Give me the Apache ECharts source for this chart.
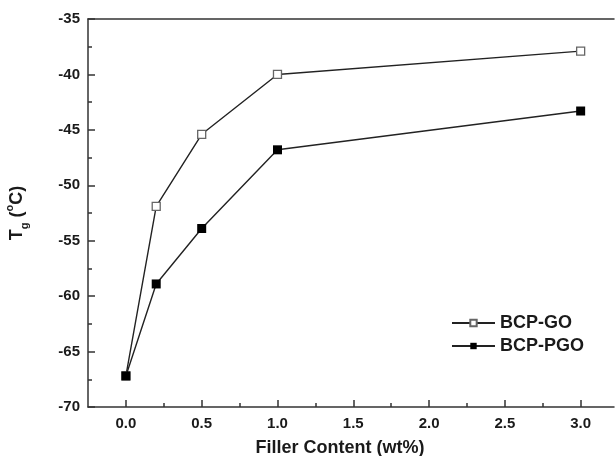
<!DOCTYPE html>
<html>
<head>
    <meta charset="utf-8">
    <title>Tg vs filler content</title>
    <script src="https://cdn.jsdelivr.net/npm/echarts@6/dist/echarts.min.js"></script>
    <style>
        html, body { margin: 0; padding: 0; background: #fff; }
    </style>
</head>
<body>
    <div id="chart" style="width: 615px;height:456px;"></div>
    <script type="text/javascript">
        // filler content (wt%)
        var fillerContent = [0, 0.2, 0.5, 1.0, 3.0];
        // Tg values (°C)
        var tgGO = [-67.2, -51.9, -45.4, -40.0, -37.9];
        var tgPGO = [-67.2, -58.9, -53.9, -46.8, -43.3];
        // x tick marks
        var xMajorTicks = [0, 0.5, 1.0, 1.5, 2.0, 2.5, 3.0];
        var xMinorTicks = [0.25, 0.75, 1.25, 1.75, 2.25, 2.75];

        function pairs(xs, ys) {
            return xs.map(function (x, i) { return [x, ys[i]]; });
        }

        var font = 'Liberation Sans, Arial, sans-serif';
        var axisColor = '#333';
        var textColor = '#1a1a1a';

        var chart = echarts.init(document.getElementById('chart'));
        var option = {
            backgroundColor: '#fff',
            animation: false,
            grid: { left: 88, right: 1, top: 19, bottom: 49, containLabel: false, outerBoundsMode: 'none' },
            legend: {
                right: 26,
                top: 309,
                orient: 'vertical',
                itemWidth: 43,
                itemHeight: 8,
                itemGap: 5,
                textStyle: { fontFamily: font, fontWeight: 'bold', fontSize: 18, color: textColor },
                data: ['BCP-GO', 'BCP-PGO']
            },
            xAxis: [{
                type: 'value',
                min: -0.25,
                max: 3.22,
                name: 'Filler Content (wt%)',
                nameLocation: 'middle',
                nameGap: 32,
                nameTextStyle: { fontFamily: font, fontWeight: 'bold', fontSize: 18, color: textColor, padding: [0, 22, 0, 0] },
                axisLine: { show: true, onZero: false, lineStyle: { color: axisColor, width: 1.5 } },
                axisTick: { show: true, inside: true, length: 7, customValues: xMajorTicks, lineStyle: { color: axisColor, width: 1.5 } },
                axisLabel: {
                    customValues: xMajorTicks,
                    margin: 9,
                    fontFamily: font, fontWeight: 'bold', fontSize: 15, color: textColor,
                    formatter: function (v) { return v.toFixed(1); }
                },
                splitLine: { show: false }
            }, {
                type: 'value',
                position: 'bottom',
                min: -0.25,
                max: 3.22,
                axisLine: { show: false },
                axisTick: { show: true, inside: true, length: 4, customValues: xMinorTicks, lineStyle: { color: axisColor, width: 1.5 } },
                axisLabel: { show: false },
                splitLine: { show: false }
            }, {
                type: 'value',
                position: 'top',
                min: -0.25,
                max: 3.22,
                axisLine: { show: true, lineStyle: { color: axisColor, width: 1.5 } },
                axisTick: { show: false },
                axisLabel: { show: false },
                splitLine: { show: false }
            }],
            yAxis: [{
                type: 'value',
                min: -70,
                max: -35,
                interval: 5,
                name: '{t|T}{s|g}{t| (}{o|o}{t|C)}',
                nameLocation: 'middle',
                nameRotate: 90,
                nameGap: 58,
                nameTextStyle: {
                    rich: {
                        t: { fontFamily: font, fontWeight: 'bold', fontSize: 18, color: textColor, lineHeight: 26, verticalAlign: 'middle' },
                        s: { fontFamily: font, fontWeight: 'bold', fontSize: 11, color: textColor, lineHeight: 26, verticalAlign: 'bottom' },
                        o: { fontFamily: font, fontWeight: 'bold', fontSize: 11, color: textColor, lineHeight: 26, verticalAlign: 'top' }
                    }
                },
                axisLine: { show: true, onZero: false, lineStyle: { color: axisColor, width: 1.5 } },
                axisTick: { show: true, inside: true, length: 7, lineStyle: { color: axisColor, width: 1.5 } },
                minorTick: { show: true, splitNumber: 2, length: 4, lineStyle: { color: axisColor, width: 1.5 } },
                axisLabel: { margin: 8, fontFamily: font, fontWeight: 'bold', fontSize: 15, color: textColor },
                splitLine: { show: false }
            }],
            series: [{
                name: 'BCP-GO',
                type: 'line',
                data: pairs(fillerContent, tgGO),
                symbol: 'rect',
                symbolSize: 8,
                lineStyle: { color: '#222', width: 1.4 },
                itemStyle: { color: '#fff', borderColor: '#666', borderWidth: 1.3 },
                z: 2
            }, {
                name: 'BCP-PGO',
                type: 'line',
                data: pairs(fillerContent, tgPGO),
                symbol: 'rect',
                symbolSize: 9,
                lineStyle: { color: '#222', width: 1.4 },
                itemStyle: { color: '#000', borderColor: '#000', borderWidth: 0 },
                z: 3
            }]
        };
        chart.setOption(option);
    </script>
</body>
</html>
